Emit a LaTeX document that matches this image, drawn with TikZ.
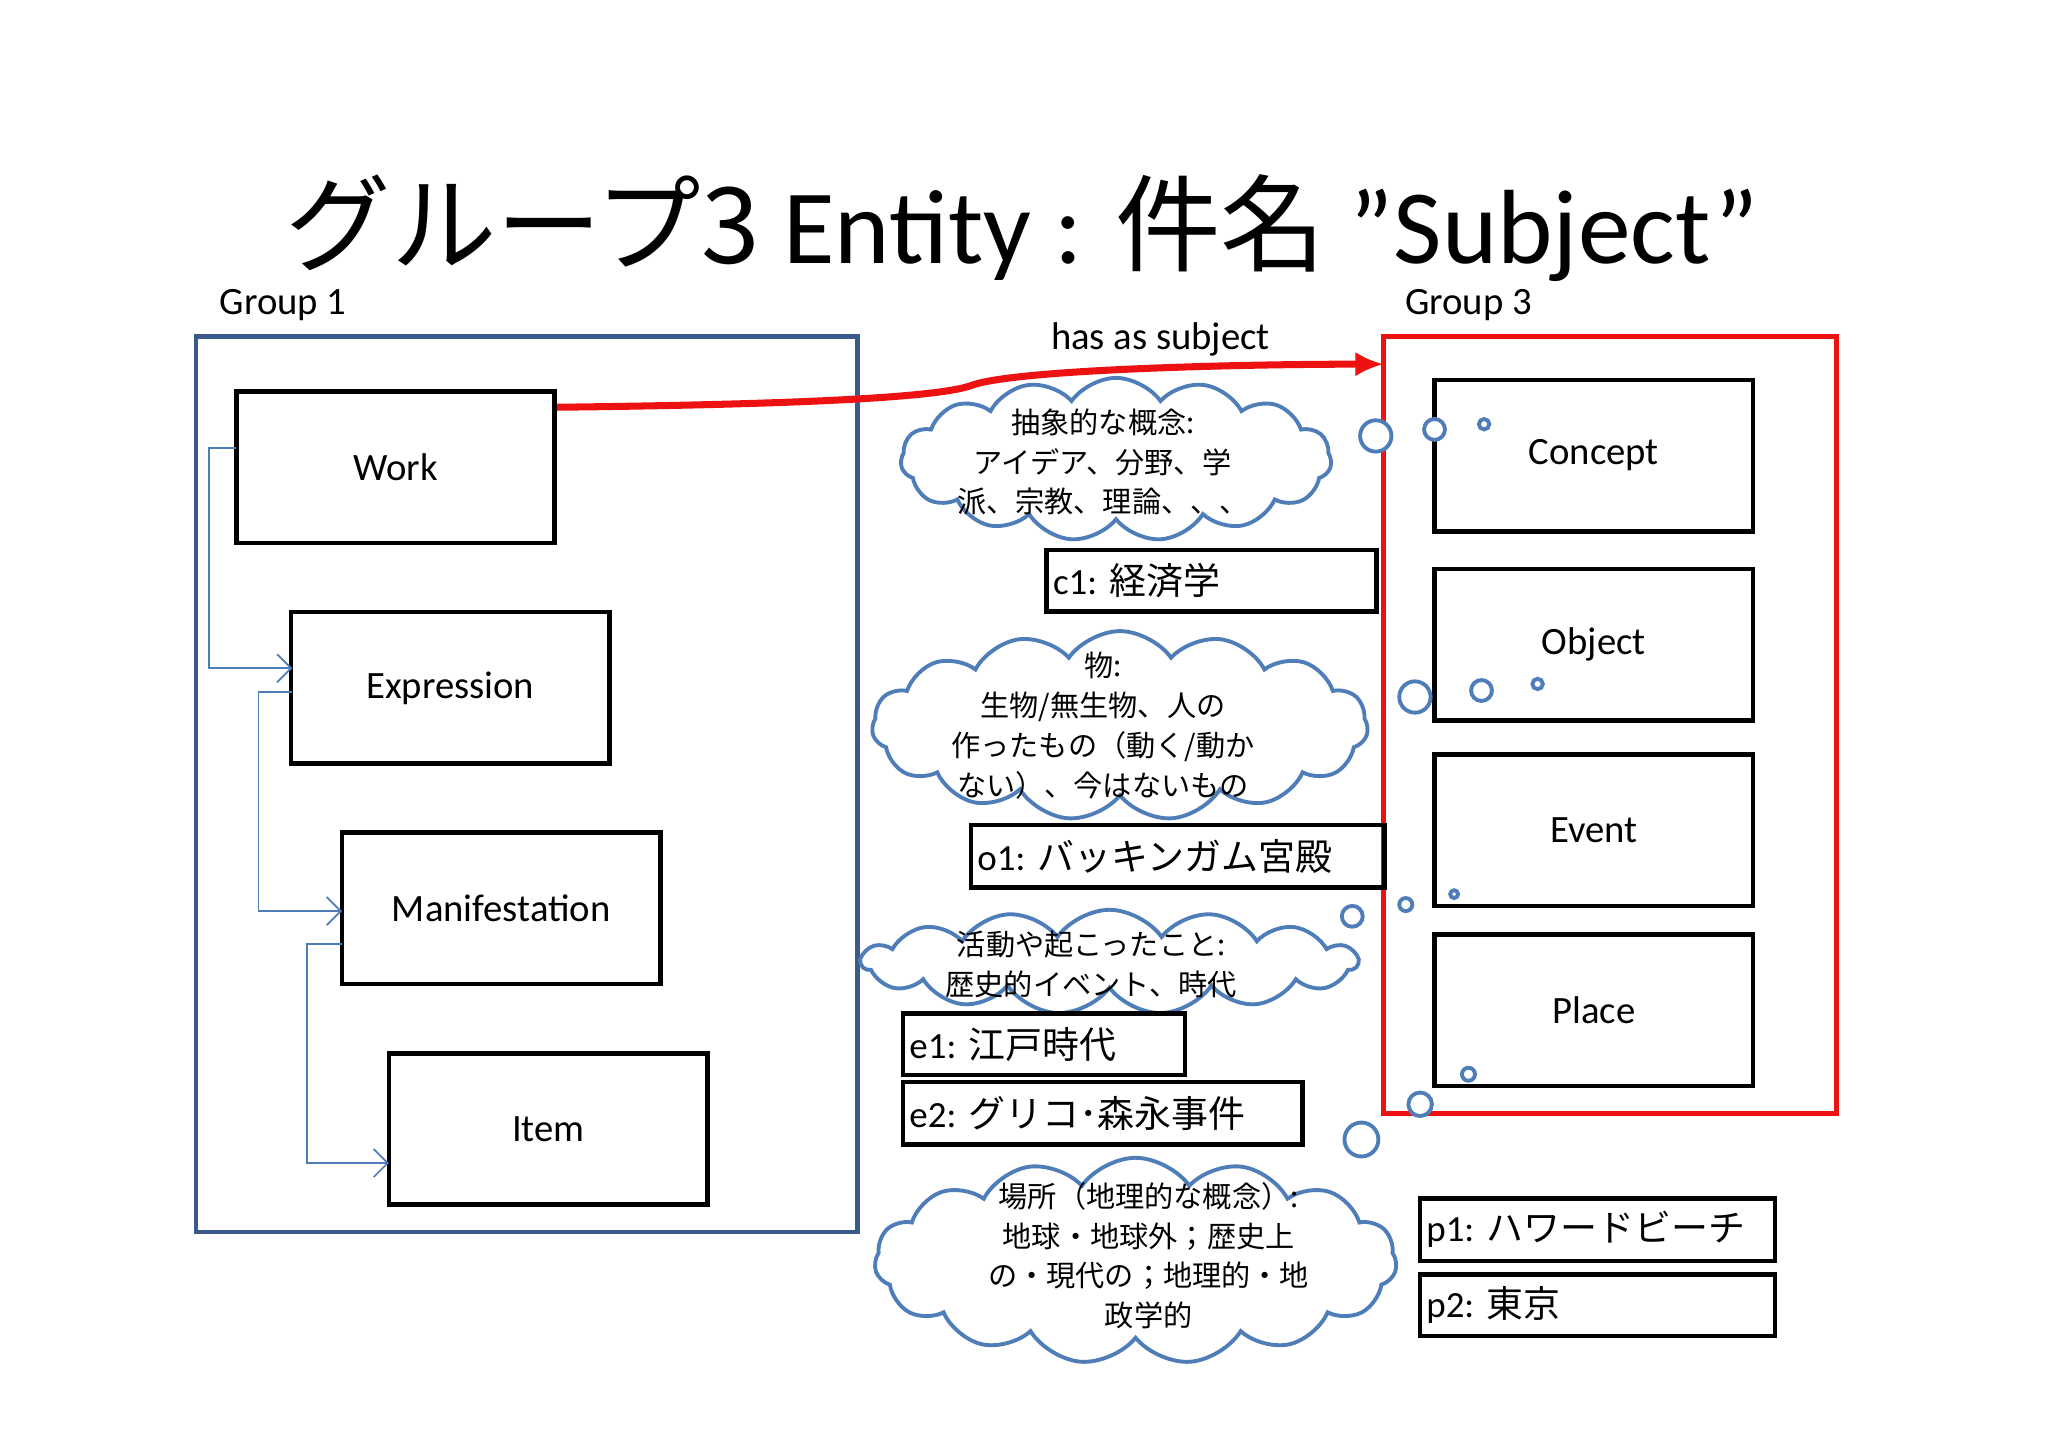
\documentclass[tikz,border=0pt]{standalone}
\usepackage{fontspec}
\setmainfont{Carlito}
\newfontfamily\jp{Noto Sans CJK JP}
\usetikzlibrary{shapes.symbols,arrows.meta}
\definecolor{gblue}{HTML}{3A5A8C}
\definecolor{cblue}{HTML}{4F7DB8}
\definecolor{cred}{HTML}{EE1111}
\begin{document}
\begin{tikzpicture}[x=0.01305cm,y=-0.01305cm,
  ent/.style={draw,line width=1.3pt,minimum width=244*0.01305cm,minimum height=116*0.01305cm,font=\fontsize{11}{13}\selectfont},
  lab/.style={draw,line width=1.3pt,anchor=west,font=\fontsize{10.5}{12}\selectfont\jp,inner ysep=0pt,inner xsep=5*0.01305cm},
  cloudbox/.style={cloud,cloud puffs=15,cloud puff arc=110,draw=cblue,line width=1.1pt,fill=white,aspect=2.6},
  ctext/.style={align=center,font=\fontsize{8.3}{11.3}\selectfont\jp},
  bub/.style={draw=cblue,line width=1.1pt,fill=white},
  link/.style={draw=cblue,-{Straight Barb[length=4pt]},line width=0.5pt}]
\useasboundingbox (0,0) rectangle (1569,1110);
\node (title) at (783,175) {\fontsize{30}{35}\selectfont\jp グループ3 \rmfamily Entity : \jp 件名 \rmfamily ”Subject”};
\node (g1) at (217,234) {\fontsize{11}{13}\selectfont Group 1};
\node (g3) at (1125,234) {\fontsize{11}{13}\selectfont Group 3};
\draw[gblue,line width=1.3pt] (150,258) rectangle (657,944);
\draw[cred,line width=1.5pt] (1060,258) rectangle (1407,853);
\coordinate (g3in) at (1060,279);
\node[ent] (work) at (303,358) {Work};
\node[ent] (expr) at (345,527) {Expression};
\node[ent] (mani) at (384,696) {Manifestation};
\node[ent] (item) at (420,865) {Item};
\draw[link] (181,343) -- (160,343) -- (160,512) -- (224,512);
\draw[link] (224,530) -- (198,530) -- (198,698) -- (262,698);
\draw[link] (262,723) -- (235,723) -- (235,891) -- (298,891);
\node[ent] (concept) at (1221,349) {Concept};
\node[ent] (object) at (1221,494) {Object};
\node[ent] (event) at (1221,636) {Event};
\node[ent] (place) at (1221,774) {Place};
% clouds
\node[cloudbox,minimum width=330*0.01305cm,minimum height=125*0.01305cm] (cl1) at (855,352) {};
\node[ctext] (t1) at (845,354) {抽象的な概念:\\アイデア、分野、学\\派、宗教、理論、、、};
\node[cloudbox,minimum width=380*0.01305cm,minimum height=145*0.01305cm] (cl2) at (858,556) {};
\node[ctext] (t2) at (845,556) {物:\\生物/無生物、人の\\作ったもの（動く/動か\\ない）、今はないもの};
\node[cloudbox,minimum width=380*0.01305cm,minimum height=80*0.01305cm,aspect=4.5] (cl3) at (850,737) {};
\node[ctext] (t3) at (836,739) {活動や起こったこと:\\歴史的イベント、時代};
\node[cloudbox,minimum width=400*0.01305cm,minimum height=158*0.01305cm] (cl4) at (870,966) {};
\node[ctext] (t4) at (880,962) {場所（地理的な概念）:\\地球・地球外；歴史上\\の・現代の；地理的・地\\政学的};
\node[font=\fontsize{11}{13}\selectfont] (has) at (889,260) {has as subject};
\draw[cred,line width=2pt,-{Latex[length=8pt,width=7pt]}] (work.east|-0,312) .. controls (600,310) and (720,305) .. (745,295) .. controls (780,283) and (950,279) .. (g3in);
% labels
\node[lab,minimum width=253*0.01305cm,minimum height=47*0.01305cm,text width=243*0.01305cm] (c1) at (800,445) {\rmfamily c1:\ \jp 経済学};
\node[lab,minimum width=317*0.01305cm,minimum height=48*0.01305cm,text width=307*0.01305cm] (o1) at (742,656) {\rmfamily o1:\ \jp バッキンガム宮殿};
\node[lab,minimum width=216*0.01305cm,minimum height=47*0.01305cm,text width=206*0.01305cm] (e1) at (690,800) {\rmfamily e1:\ \jp 江戸時代};
\node[lab,minimum width=306*0.01305cm,minimum height=48*0.01305cm,text width=296*0.01305cm] (e2) at (690,853) {\rmfamily e2:\ \jp グリコ･森永事件};
\node[lab,minimum width=272*0.01305cm,minimum height=48*0.01305cm,text width=262*0.01305cm] (p1) at (1086,942) {\rmfamily p1:\ \jp ハワードビーチ};
\node[lab,minimum width=272*0.01305cm,minimum height=47*0.01305cm,text width=262*0.01305cm] (p2) at (1086,1000) {\rmfamily p2:\ \jp 東京};
% bubbles
\foreach \x/\y/\r in {1054/334/12,1099/329/8,1137/325/4,1084/534/12,1135/529/8,1178/524/4,1036/702/8,1077/693/5,1114/685/3,1043/873/13,1088/846/9,1125/823/5}
  \draw[bub] (\x,\y) circle[radius=\r*0.01305cm];
\end{tikzpicture}
\end{document}
